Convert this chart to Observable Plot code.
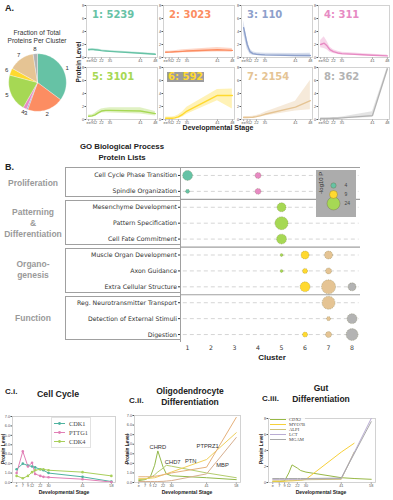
<!DOCTYPE html>
<html><head><meta charset="utf-8">
<script src="https://cdn.jsdelivr.net/npm/d3@7"></script>
<script src="https://cdn.jsdelivr.net/npm/@observablehq/plot@0.6"></script>
<style>
body{margin:0;background:#fff;}
#fig{position:relative;width:393px;height:500px;overflow:hidden;font-family:"Liberation Sans",sans-serif;}
</style></head><body><div id="fig"></div>
<script>
// ---------------- DATA ----------------
const clusters = [1,2,3,4,5,6,7,8];
const clusterCounts = [5239,3023,110,311,3101,592,2154,362];
const clusterColors = ["#66c2a5","#fc8d62","#8da0cb","#e78ac3","#a6d854","#ffd92f","#e5c494","#b3b3b3"];

// Panel A: cluster mean trajectories (developmental time axis units)
const stageTimeA = [3, 8, 12, 16, 21, 27, 33, 76, 97];
const stageTickTimeA = [3, 8, 12, 21, 33, 76, 97];
const stageTickLabelA = ["ee","9","12","22","35","41","48"];
const protTicksA = [0,2,4,6,8];
const meanA = [
  [1.2,1.25,1.2,1.15,1.05,1.0,0.95,0.65,0.5],
  [0.8,0.82,0.85,0.88,0.9,0.95,1.0,1.2,1.1],
  [4.6,2.0,0.9,0.6,0.5,0.45,0.4,0.3,0.3],
  [2.0,2.2,1.8,1.2,0.9,0.7,0.6,0.35,0.25],
  [0.5,0.55,0.7,1.0,1.3,1.4,1.4,1.3,0.9],
  [0.2,0.2,0.2,0.25,0.4,0.8,1.3,3.7,3.7],
  [0.3,0.3,0.32,0.35,0.45,0.6,0.8,1.9,2.9],
  [0.15,0.15,0.15,0.18,0.2,0.2,0.25,0.6,7.8]
];
const loA = [
  [1.05,1.1,1.05,1.0,0.92,0.87,0.82,0.52,0.38],
  [0.65,0.67,0.68,0.7,0.7,0.72,0.75,0.85,0.8],
  [3.6,1.3,0.5,0.35,0.3,0.25,0.2,0.1,0.05],
  [1.5,1.4,1.2,0.8,0.6,0.45,0.4,0.2,0.1],
  [0.3,0.35,0.45,0.7,1.0,1.05,1.0,0.85,0.55],
  [0.0,0.0,0.0,0.05,0.15,0.4,0.8,2.9,1.6],
  [0.15,0.15,0.17,0.2,0.28,0.4,0.55,1.3,1.5],
  [0.05,0.05,0.05,0.08,0.1,0.1,0.1,0.3,7.4]
];
const hiA = [
  [1.35,1.4,1.35,1.3,1.18,1.13,1.08,0.78,0.62],
  [0.95,0.97,1.0,1.05,1.1,1.18,1.25,1.55,1.4],
  [5.6,2.8,1.3,0.9,0.75,0.7,0.65,0.6,0.65],
  [2.6,3.2,2.5,1.6,1.2,0.95,0.8,0.5,0.4],
  [0.7,0.75,0.95,1.3,1.6,1.75,1.8,1.8,1.25],
  [0.4,0.4,0.4,0.45,0.7,1.2,1.9,4.6,4.7],
  [0.45,0.45,0.47,0.5,0.62,0.8,1.1,2.8,6.0],
  [0.25,0.25,0.25,0.28,0.3,0.3,0.4,1.2,8.0]
];

// Panel B: GO enrichment
const goGroups = ["Proliferation","Patterning\n&\nDifferentiation","Organo-\ngenesis","Function"];
const goTerms = ["Cell Cycle Phase Transition","Spindle Organization","Mesenchyme Development","Pattern Specification","Cell Fate Commitment","Muscle Organ Development","Axon Guidance","Extra Cellular Structure","Reg. Neurotransmitter Transport","Detection of External Stimuli","Digestion"];
const goTermGroup = [0,0,1,1,1,2,2,2,3,3,3];
const goDotTerm    = [0,0,1,1,2,3,4,5,5,5,6,6,6,7,7,7,8,9,9,10,10,10];
const goDotCluster = [1,4,1,4,5,5,5,5,6,7,5,6,7,6,7,8,7,7,8,6,7,8];
const goDotLogP    = [14,5,2.3,5,11.5,24,14,1.3,9,9,1.3,3.6,5,14,28,9,24,2.3,14,3.6,5,20];
const legendLogP = [4,9,24];
const legendCluster = [1,6,5];

// Panel C: gene trajectories
const stageTimeC = [4,10,15,19,22,27,30,35,68,96];
const stageTickTimeC = [4,10,15,19,27,35,68,96];
const stageTickLabelC = ["e","7","9","12","22","30","41","58"];
const cellCycleGenes = ["CDK1","PTTG1","CDK4"];
const cellCycleColors = ["#4fb3a0","#e17fb6","#a9cf5a"];
const cellCycleValues = [
  [1.4,2.0,1.8,1.7,1.6,1.4,1.3,1.0,0.6,0.1],
  [1.0,3.3,1.7,2.1,0.9,0.7,0.6,0.55,0.35,0.05],
  [0.7,0.45,0.7,1.1,1.3,1.4,1.4,1.3,1.1,0.7]
];
const oligoGenes = ["CHRD","CHD7","PTN","PTPRZ1","MBP"];
const oligoColors = ["#93b84a","#b4cc6e","#efcf5c","#e5b07a","#d6ae8e"];
const oligoValues = [
  [0.2,0.3,0.6,1.8,3.3,1.6,0.9,0.7,0.5,0.3],
  [0.3,0.35,0.5,0.8,1.1,1.5,1.8,1.7,1.0,0.5],
  [0.4,0.4,0.45,0.5,0.6,0.8,0.9,1.1,2.4,5.2],
  [0.6,0.6,0.6,0.65,0.7,0.8,0.9,1.0,1.6,6.8],
  [0.1,0.1,0.1,0.1,0.1,0.12,0.15,0.2,0.9,4.7]
];
const oligoLabelX = [22,36,53,69,83];
const oligoLabelY = [3.7,2.1,2.2,3.8,1.8];
const stageTimeGut = [4,10,15,19,22,27,30,35,68,80,96];
const gutGenes = ["CDX2","MYO7B","ALPI","LCT","MGAM"];
const gutColors = ["#98b846","#f7d03a","#cfc27c","#b9acd3","#a9a9a9"];
const gutValues = [
  [0.1,0.1,0.2,1.2,2.2,1.8,1.5,1.3,0.6,0.5,0.4],
  [0.15,0.15,0.15,0.2,0.2,0.25,0.3,0.4,3.8,4.9,null],
  [0.3,0.3,0.3,0.3,0.3,0.3,0.3,0.35,0.4,3.8,null],
  [0.4,0.4,0.4,0.4,0.4,0.4,0.4,0.45,0.5,null,8.0],
  [0.5,0.5,0.5,0.5,0.5,0.5,0.5,0.5,0.55,null,7.6]
];

// ---------------- HELPERS ----------------
const fig = document.getElementById("fig");
function place(node, left, top){
  node.style.position = "absolute"; node.style.left = left + "px"; node.style.top = top + "px";
  fig.appendChild(node); return node;
}
function addText(str, x, y, o = {}){
  const d = document.createElement("div");
  d.textContent = str;
  const size = o.size || 7;
  Object.assign(d.style, {
    position:"absolute", left:x+"px", top:y+"px", whiteSpace:"pre",
    fontFamily:o.family || "Liberation Sans", fontSize:size+"px",
    fontWeight:o.weight || "normal", color:o.color || "#222",
    lineHeight:(o.lh || size*1.2)+"px", textAlign:o.align || "center",
    background:o.bg || "transparent", padding:o.pad || "0",
    transform:`translate(${o.ax ?? -50}%, -50%)` + (o.rot ? ` rotate(${o.rot}deg)` : "")
  });
  fig.appendChild(d); return d;
}
function addLegend(names, colors, x, y, o){
  const box = document.createElement("div");
  Object.assign(box.style, {position:"absolute", left:x+"px", top:y+"px", border:o.border || "none",
    background:"rgba(255,255,255,0.85)", padding:o.pad || "1px 2px"});
  names.forEach((n,i)=>{
    const row = document.createElement("div");
    Object.assign(row.style, {display:"flex", alignItems:"center", height:o.rowH+"px"});
    const ns = "http://www.w3.org/2000/svg";
    const s = document.createElementNS(ns,"svg");
    s.setAttribute("width", o.sw); s.setAttribute("height", o.rowH);
    const l = document.createElementNS(ns,"line");
    l.setAttribute("x1",0); l.setAttribute("x2",o.sw); l.setAttribute("y1",o.rowH/2); l.setAttribute("y2",o.rowH/2);
    l.setAttribute("stroke",colors[i]); l.setAttribute("stroke-width",o.lw);
    s.appendChild(l);
    if (o.marker){
      const c = document.createElementNS(ns,"circle");
      c.setAttribute("cx",o.sw/2); c.setAttribute("cy",o.rowH/2); c.setAttribute("r",1.4); c.setAttribute("fill",colors[i]);
      s.appendChild(c);
    }
    const t = document.createElement("span");
    t.textContent = n;
    Object.assign(t.style,{fontFamily:"Liberation Serif, serif", fontSize:o.size+"px", color:"#444", marginLeft:o.gap+"px", lineHeight:o.rowH+"px"});
    row.appendChild(s); row.appendChild(t); box.appendChild(row);
  });
  fig.appendChild(box);
}

// ---------------- PANEL A ----------------
addText("A.", 5, 8, {size:9, weight:"bold", ax:0});
addText("Fraction of Total\nProteins Per Cluster", 37, 37, {size:6.6, color:"#333", lh:8});

const pieArcs = d3.pie().sort(null).value(d => d)(clusterCounts);
const pieRows = pieArcs.flatMap((a,k) => {
  const n = Math.max(2, Math.ceil((a.endAngle - a.startAngle) / 0.04));
  const pts = [{k, x:0, y:0}];
  for (let j = 0; j <= n; j++){
    const th = a.startAngle + (a.endAngle - a.startAngle) * j / n;
    pts.push({k, x:Math.sin(th), y:Math.cos(th)});
  }
  pts.push({k, x:0, y:0});
  return pts;
});
const mid = a => (a.startAngle + a.endAngle) / 2;
const pie = Plot.plot({
  width:72, height:72, margin:0,
  style:{background:"transparent", fontFamily:"Liberation Sans", fontSize:"6px", overflow:"visible"},
  x:{domain:[-1.25,1.25], axis:null}, y:{domain:[-1.25,1.25], axis:null},
  marks:[
    Plot.line(pieRows, {x:"x", y:"y", z:"k", fill:d => clusterColors[d.k], stroke:"white", strokeWidth:0.3, curve:"linear"}),
    Plot.text(pieArcs, {x:a => 1.15*Math.sin(mid(a)), y:a => 1.15*Math.cos(mid(a)), text:(a,i) => String(clusters[i]), fill:"#333"})
  ]
});
place(pie, 1, 46);

const colLeft = [86,163,241,318], rowTop = [5,67];
function clusterPanel(k){
  const color = clusterColors[k];
  const rows = stageTimeA.map((t,i) => ({t, m:meanA[k][i], lo:loA[k][i], hi:hiA[k][i]}));
  return Plot.plot({
    width:82, height:61, marginLeft:8, marginRight:3, marginTop:2, marginBottom:7,
    style:{fontFamily:"Liberation Sans", fontSize:"3.8px", color:"#555", background:"transparent", overflow:"visible"},
    x:{domain:[0,100], ticks:stageTickTimeA, tickFormat:d => stageTickLabelA[stageTickTimeA.indexOf(d)], tickSize:1.5, tickPadding:0.5, label:null},
    y:{domain:[0,8], ticks:protTicksA, tickSize:1.5, tickPadding:0.8, label:null},
    marks:[
      Plot.frame({stroke:"#c8c8c8", strokeWidth:0.8}),
      Plot.areaY(rows, {x:"t", y1:"lo", y2:"hi", fill:color, fillOpacity:0.35, clip:true}),
      Plot.lineY(rows, {x:"t", y:"m", stroke:color, strokeWidth:1.4, clip:true})
    ]
  });
}
clusters.forEach((c,k) => {
  const col = k % 4, row = Math.floor(k / 4);
  place(clusterPanel(k), colLeft[col] - 8, rowTop[row] - 2);
  const isSix = c === 6;
  addText(`${c}: ${clusterCounts[k]}`, colLeft[col] + (isSix ? 4 : 6), rowTop[row] + 10,
    {size:10, weight:"bold", family:"DejaVu Sans", color:clusterColors[k], ax:0,
     bg: isSix ? "#9c9c9c" : "transparent", pad: isSix ? "0 1px" : "0", lh:10});
});
addText("Protein Level", 79, 62, {size:6.5, weight:"bold", rot:-90});
addText("Developmental Stage", 218, 128, {size:7, weight:"bold"});

// ---------------- PANEL B ----------------
addText("B.", 5, 167, {size:9, weight:"bold", ax:0});
addText("GO Biological Process\nProtein Lists", 122, 152, {size:7.8, weight:"bold", lh:10.5});

const rowIdx = goTerms.map((t,i) => i);
const goDots = goDotTerm.map((t,i) => ({row:t, cluster:goDotCluster[i], logP:goDotLogP[i]}));
const groupBounds = goTermGroup.map((g,i) => (i > 0 && goTermGroup[i-1] !== g) ? i - 0.5 : null).filter(v => v !== null);
const B_LEFT = 65, B_TOP = 160;
const bPlot = Plot.plot({
  width:295, height:194, marginLeft:115, marginRight:0, marginTop:7, marginBottom:12,
  style:{fontFamily:"DejaVu Sans", fontSize:"6.2px", color:"#333", background:"transparent", overflow:"visible"},
  x:{domain:[0.7,8.36], ticks:clusters, tickFormat:d => String(d), tickSize:0, tickPadding:3, label:null},
  y:{domain:[goTerms.length - 0.5, -0.5], ticks:rowIdx, tickFormat:i => goTerms[i], tickSize:2, tickPadding:1.5, label:null},
  r:{type:"sqrt", domain:[0,24], range:[0,6.5]},
  marks:[
    Plot.ruleY(rowIdx, {x1:0.82, x2:8.3, stroke:"#b8b8b8", strokeWidth:0.6, strokeDasharray:"4,3"}),
    Plot.ruleY(groupBounds, {stroke:"#a0a0a0", strokeWidth:1.2}),
    Plot.ruleY([-0.5], {stroke:"#a0a0a0", strokeWidth:1}),
    Plot.ruleX([0.7], {stroke:"#a0a0a0", strokeWidth:1}),
    Plot.dot(goDots, {x:"cluster", y:"row", r:"logP", fill:d => clusterColors[d.cluster - 1],
      stroke:"#6b6b3a", strokeOpacity:0.7, strokeWidth:0.5, strokeDasharray:"1,0.8"})
  ]
});
place(bPlot, B_LEFT, B_TOP);
const yB = bPlot.scale("y");
goGroups.forEach((g,gi) => {
  const idx = rowIdx.filter(i => goTermGroup[i] === gi);
  const first = idx[0], last = idx[idx.length - 1];
  const top = B_TOP + yB.apply(first - 0.5) + (gi === 0 ? 0 : 1.5);
  const bot = B_TOP + yB.apply(last + 0.5) - 1.5;
  const box = document.createElement("div");
  Object.assign(box.style, {position:"absolute", left:B_LEFT+"px", top:top+"px", width:(180 - B_LEFT)+"px",
    height:(bot - top)+"px", border:"1px solid #a0a0a0", borderRight:"none", boxSizing:"border-box"});
  fig.appendChild(box);
  const cy = B_TOP + (yB.apply(first) + yB.apply(last)) / 2;
  addText(g, 33, cy, {size:8.5, weight:"bold", color:"#9a9a9a", lh:11});
});
addText("Cluster", 272, 358, {size:8, weight:"bold"});

const legendPlot = Plot.plot({
  width:40, height:47, marginLeft:0, marginRight:6, marginTop:0, marginBottom:0,
  style:{background:"#acacac", fontFamily:"Liberation Sans", fontSize:"5px", color:"#333", overflow:"visible"},
  x:{axis:null}, y:{type:"point", domain:legendLogP, range:[9,38], axis:null},
  r:{type:"sqrt", domain:[0,24], range:[0,6.5]},
  marks:[
    Plot.dot(legendLogP, {y:d => d, r:d => d, fill:(d,i) => clusterColors[legendCluster[i] - 1], stroke:"#6b6b3a", strokeWidth:0.5, strokeOpacity:0.7}),
    Plot.text(legendLogP, {y:d => d, text:d => String(d), dx:11, textAnchor:"start", fill:"#444"}),
    Plot.text(["-log10 P"], {frameAnchor:"left", rotate:-90, dx:5, fill:"#333", fontSize:6})
  ]
});
place(legendPlot, 316, 170);

// ---------------- PANEL C ----------------
function geneChart(times, names, colors, values, o){
  const rows = [];
  names.forEach((n,gi) => values[gi].forEach((v,i) => { if (v !== null) rows.push({gene:n, gi, t:times[i], v}); }));
  const marks = [
    Plot.frame({stroke:"#c8c8c8", strokeWidth:0.8}),
    Plot.line(rows, {x:"t", y:"v", z:"gene", stroke:d => colors[d.gi], strokeWidth:1, clip:true})
  ];
  if (o.markers) marks.push(Plot.dot(rows, {x:"t", y:"v", r:1.3, fill:d => colors[d.gi]}));
  if (o.labels) marks.push(Plot.text(names, {x:(d,i) => o.labels.x[i], y:(d,i) => o.labels.y[i], text:d => d, fill:"#333", fontSize:5.8}));
  return Plot.plot({
    width:o.w, height:o.h, marginLeft:12, marginRight:3, marginTop:4, marginBottom:8,
    style:{fontFamily:"Liberation Sans", fontSize:"3.8px", color:"#555", background:"transparent", overflow:"visible"},
    x:{domain:[0,100], ticks:stageTickTimeC, tickFormat:d => stageTickLabelC[stageTickTimeC.indexOf(d)], tickSize:1.5, tickPadding:0.5, label:null},
    y:{domain:[0,o.ymax], ticks:d3.range(0, o.ymax + 1, o.ystep), tickSize:1.5, tickPadding:1, label:null},
    marks
  });
}
// C.i
addText("C.i.", 5, 392, {size:8, weight:"bold", ax:0});
addText("Cell Cycle", 58, 394, {size:8.8, weight:"bold"});
place(geneChart(stageTimeC, cellCycleGenes, cellCycleColors, cellCycleValues, {w:118, h:78, ymax:7, ystep:1, markers:true}), 0, 412);
addLegend(cellCycleGenes, cellCycleColors, 51, 417, {rowH:9, sw:11, lw:1, size:6.3, gap:4, marker:true, border:"0.5px solid #e2e2e2"});
addText("Protein Level", 4, 449, {size:4.8, weight:"bold", rot:-90});
addText("Developmental Stage", 64, 492, {size:5, weight:"bold"});
// C.ii
addText("C.ii.", 129, 401, {size:8, weight:"bold", ax:0});
addText("Oligodendrocyte\nDifferentiation", 190, 396, {size:8.5, weight:"bold", lh:10.5});
place(geneChart(stageTimeC, oligoGenes, oligoColors, oligoValues, {w:121, h:79, ymax:7, ystep:1, labels:{x:oligoLabelX, y:oligoLabelY}}), 122, 411);
addText("Protein Level", 128, 449, {size:4.8, weight:"bold", rot:-90});
addText("Developmental Stage", 187, 492, {size:5, weight:"bold"});
// C.iii
addText("C.iii.", 262, 399, {size:8, weight:"bold", ax:0});
addText("Gut\nDifferentiation", 321, 393, {size:8.5, weight:"bold", lh:10.5});
place(geneChart(stageTimeGut, gutGenes, gutColors, gutValues, {w:122, h:76, ymax:8, ystep:2}), 256, 414);
addLegend(gutGenes, gutColors, 270, 417, {rowH:5, sw:16, lw:1, size:4.6, gap:3, marker:false, pad:"0"});
addText("Protein Level", 262, 449, {size:4.8, weight:"bold", rot:-90});
addText("Developmental Stage", 321, 492, {size:5, weight:"bold"});
</script></body></html>
